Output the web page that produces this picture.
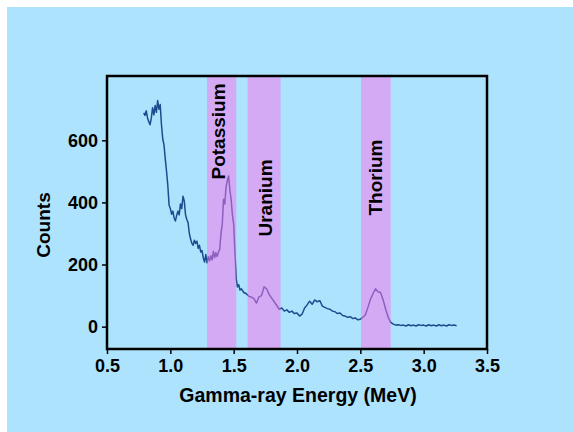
<!DOCTYPE html>
<html>
<head>
<meta charset="utf-8">
<script src="https://cdn.jsdelivr.net/npm/d3@7"></script>
<style>
  body { margin: 0; background: #fff; }
  text { font-family: "Liberation Sans", Arial, Helvetica, sans-serif; font-weight: bold; }
</style>
</head>
<body>
<div class="canvas"></div>
<script>
// gamma-ray spectrum
const energy = [
  0.79, 0.80, 0.81, 0.82, 0.83, 0.84, 0.85, 0.86, 0.87, 0.88, 0.89,
  0.90, 0.91, 0.92, 0.93, 0.94, 0.95, 0.96, 0.97, 0.98, 0.99,
  1.00, 1.01, 1.02, 1.03, 1.04, 1.05, 1.06, 1.07, 1.08, 1.09,
  1.10, 1.11, 1.12, 1.13, 1.14, 1.15, 1.16, 1.17, 1.18, 1.19,
  1.20, 1.21, 1.22, 1.23, 1.24, 1.25, 1.26, 1.27, 1.28, 1.29,
  1.30, 1.31, 1.32, 1.33, 1.34, 1.35, 1.36, 1.37, 1.38, 1.39,
  1.40, 1.41, 1.42, 1.43, 1.44, 1.45, 1.46, 1.47, 1.48, 1.49,
  1.50, 1.51, 1.52, 1.53, 1.54, 1.55, 1.56,
  1.58, 1.60, 1.62, 1.64, 1.66, 1.68, 1.70, 1.72, 1.74, 1.76, 1.78,
  1.80, 1.82, 1.84, 1.86, 1.88, 1.90, 1.92, 1.94, 1.96, 1.98,
  2.00, 2.02, 2.04, 2.06, 2.08, 2.10, 2.12, 2.14, 2.16, 2.18,
  2.20, 2.22, 2.24, 2.26, 2.28, 2.30, 2.32, 2.34, 2.36, 2.38,
  2.40, 2.42, 2.44, 2.46, 2.48, 2.50, 2.52, 2.54, 2.56, 2.58,
  2.60, 2.62, 2.64, 2.66, 2.68, 2.70, 2.72, 2.74, 2.76, 2.78,
  2.80, 2.82, 2.84, 2.86, 2.88, 2.90, 2.92, 2.94, 2.96, 2.98,
  3.00, 3.02, 3.04, 3.06, 3.08, 3.10, 3.12, 3.14, 3.16, 3.18,
  3.20, 3.22, 3.24, 3.26
];
const counts = [
  688, 680, 695, 672, 660, 650, 672, 705, 682, 712, 690,
  728, 700, 715, 650, 605, 585, 540, 500, 455, 392,
  380, 362, 372, 350, 340, 358, 372, 360, 395, 380,
  420, 405, 360, 345, 335, 300, 282, 268, 262, 278,
  268, 275, 252, 262, 240, 245, 222, 208, 232, 205,
  225, 212, 228, 215, 242, 222, 238, 226, 240, 250,
  300, 330, 410, 395, 450, 470, 485, 440, 410, 360,
  330, 240, 155, 128, 135, 118, 122,
  110, 106, 98, 95, 90, 76, 96, 100, 128, 122, 104,
  92, 80, 68, 56, 60, 50, 54, 46, 50, 42,
  44, 34, 40, 60, 70, 82, 72, 86, 80, 84,
  66, 62, 58, 56, 50, 48, 42, 44, 36, 34,
  30, 32, 26, 28, 22, 24, 30, 38, 62, 88,
  106, 122, 112, 110, 86, 56, 30, 14, 8, 5,
  6, 4, 5, 2, 6, 3, 5, 2, 6, 4,
  5, 2, 6, 3, 5, 2, 6, 3, 5, 2,
  6, 4, 5, 3
];

// energy windows for each element
const bandNames = ["Potassium", "Uranium", "Thorium"];
const bandStart = [1.29, 1.61, 2.505];
const bandEnd = [1.52, 1.87, 2.74];

const xTicks = [0.5, 1.0, 1.5, 2.0, 2.5, 3.0, 3.5];
const yTicks = [0, 200, 400, 600];

const w = 573;
const h = 432;

const svg = d3
  .select(".canvas")
  .append("svg")
  .attr("width", w)
  .attr("height", h);

// light blue backdrop
svg
  .append("rect")
  .attr("x", 7)
  .attr("y", 7)
  .attr("width", w - 7)
  .attr("height", h - 7)
  .attr("fill", "#ade3fd");

// plot box
const box = { left: 107, top: 76, right: 487, bottom: 349 };

const x = d3
  .scaleLinear()
  .domain([0.5, 3.5])
  .range([box.left, box.right]);

const y = d3
  .scaleLinear()
  .domain([-72, 807])
  .range([box.bottom, box.top]);

const spectrum = energy.map((e, i) => ({ e: e, c: counts[i] }));

// the spectrum line
const line = d3
  .line()
  .x(d => x(d.e))
  .y(d => y(d.c));

svg
  .append("path")
  .datum(spectrum)
  .attr("d", line)
  .attr("fill", "none")
  .attr("stroke", "#1b4d8e")
  .attr("stroke-width", 1.5)
  .attr("stroke-linejoin", "round");

// translucent bands over the line
const bands = bandNames.map((name, i) => ({
  name: name,
  start: bandStart[i],
  end: bandEnd[i]
}));

svg
  .selectAll("rect.band")
  .data(bands)
  .enter()
  .append("rect")
  .attr("class", "band")
  .attr("x", d => x(d.start))
  .attr("y", box.top)
  .attr("width", d => x(d.end) - x(d.start))
  .attr("height", box.bottom - box.top)
  .attr("fill", "rgb(251,113,237)")
  .attr("fill-opacity", 0.5);

// band labels, placed by hand
const labelPos = [
  { bx: 225, cy: 131.5 },
  { bx: 272, cy: 198 },
  { bx: 382, cy: 177.5 }
];

svg
  .selectAll("text.band-label")
  .data(bands)
  .enter()
  .append("text")
  .attr("class", "band-label")
  .attr("text-anchor", "middle")
  .attr("font-size", 19)
  .attr("transform", (d, i) => `translate(${labelPos[i].bx}, ${labelPos[i].cy}) rotate(-90)`)
  .text(d => d.name);

// axes
const xAxis = d3
  .axisBottom(x)
  .tickValues(xTicks)
  .tickFormat(d3.format(".1f"))
  .tickSize(5)
  .tickPadding(5);

const yAxis = d3
  .axisLeft(y)
  .tickValues(yTicks)
  .tickSize(5)
  .tickPadding(4);

const xAxisGroup = svg
  .append("g")
  .attr("transform", `translate(0, ${box.bottom})`)
  .call(xAxis);

const yAxisGroup = svg
  .append("g")
  .attr("transform", `translate(${box.left}, 0)`)
  .call(yAxis);

[xAxisGroup, yAxisGroup].forEach(g => {
  g.select(".domain").remove();
  g.selectAll("line").attr("stroke", "#000").attr("stroke-width", 1.5);
  g.selectAll("text")
    .attr("fill", "#000")
    .attr("font-size", 18)
    .attr("font-family", "'Liberation Sans', Arial, sans-serif");
});

// frame around the plot
svg
  .append("rect")
  .attr("x", box.left)
  .attr("y", box.top)
  .attr("width", box.right - box.left)
  .attr("height", box.bottom - box.top)
  .attr("fill", "none")
  .attr("stroke", "#000")
  .attr("stroke-width", 2.5);

// axis titles
svg
  .append("text")
  .attr("x", 298)
  .attr("y", 402)
  .attr("text-anchor", "middle")
  .attr("font-size", 19.5)
  .text("Gamma-ray Energy (MeV)");

svg
  .append("text")
  .attr("text-anchor", "middle")
  .attr("font-size", 19)
  .attr("transform", "translate(49.5, 225) rotate(-90)")
  .text("Counts");
</script>
</body>
</html>
